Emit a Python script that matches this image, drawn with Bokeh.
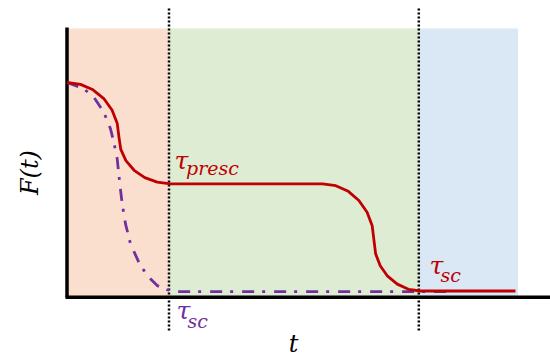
import math
from bokeh.plotting import figure
from bokeh.embed import file_html
from bokeh.resources import INLINE
from bokeh.core.properties import value

# ---- data (t in arbitrary time units, F normalised) ----
red_t = [0.0, 0.135, 0.260, 0.368, 0.450, 0.502, 0.520,
         0.538, 0.589, 0.671, 0.778, 0.902, 1.035,
         2.555, 2.688, 2.813, 2.919, 3.001, 3.052, 3.070,
         3.086, 3.132, 3.206, 3.303, 3.415, 3.535, 4.485]
red_F = [1.0, 0.991, 0.965, 0.923, 0.868, 0.805, 0.737,
         0.679, 0.625, 0.579, 0.544, 0.522, 0.514,
         0.514, 0.505, 0.478, 0.434, 0.378, 0.313, 0.242,
         0.179, 0.121, 0.071, 0.033, 0.008, 0.0, 0.0]

purple_t = [0.0, 0.168, 0.268, 0.368, 0.435, 0.468, 0.502, 0.528, 0.552, 0.585, 0.635,
            0.718, 0.802, 0.902, 1.002, 1.085, 3.815]
purple_F = [1.0, 0.970, 0.930, 0.858, 0.778, 0.714, 0.634, 0.514, 0.418, 0.322, 0.226,
            0.138, 0.074, 0.026, 0.006, -0.003, -0.003]

region_left = [0.0, 1.02, 3.518]
region_right = [1.02, 3.518, 4.51]
region_colors = ["#FADFCE", "#DEECD4", "#DAE8F5"]
region_bottom = -0.03
region_top = 1.259

tau_marks = [1.02, 3.518]

x_label = "t"
y_label = "F(t)"
tau_symbol = "τ"
sub_labels = ["presc", "sc", "sc"]
sub_colors = ["#C00000", "#C00000", "#7030A0"]
tau_x = [1.075, 3.625, 1.095]
tau_y = [0.626, 0.122, -0.0935]
sub_x = [1.190, 3.735, 1.205]
sub_y = [0.588, 0.079, -0.1415]

RED = "#C00000"
PURPLE = "#7030A0"
FONT = value("DejaVu Serif")

p = figure(width=550, height=358, x_range=(-0.665, 4.835), y_range=(-0.3237, 1.3933),
           output_backend="svg", toolbar_location=None, min_border=0,
           x_axis_type=None, y_axis_type=None)
p.outline_line_color = None
p.background_fill_color = "white"
p.border_fill_color = "white"

# shaded regions
p.quad(left=region_left, right=region_right, bottom=region_bottom, top=region_top,
       fill_color=region_colors, line_color=None)

# axis lines
p.segment(x0=[0.0, -0.015], y0=[1.264, -0.030], x1=[0.0, 4.835], y1=[-0.030, -0.030],
          line_color="black", line_width=3.5)

# dotted markers
p.segment(x0=tau_marks, x1=tau_marks, y0=-0.1894, y1=1.36,
          line_color="black", line_width=2.5, line_dash="2 2")

# curves
p.line(purple_t, purple_F, line_color=PURPLE, line_width=2.8, line_dash="12 8 3 9")
p.line(red_t, red_F, line_color=RED, line_width=2.8)

# labels
p.text(x=tau_x, y=tau_y, text=[tau_symbol] * 3, text_color=sub_colors,
       text_font=FONT, text_font_style="italic", text_font_size="25px",
       text_align="left", text_baseline="alphabetic")
p.text(x=sub_x, y=sub_y, text=sub_labels, text_color=sub_colors,
       text_font=FONT, text_font_style="italic", text_font_size="19px",
       text_align="left", text_baseline="alphabetic")

p.text(x=[2.265], y=[-0.2518], text=[x_label], text_color="black",
       text_font=FONT, text_font_style="italic", text_font_size="24px",
       text_align="center", text_baseline="alphabetic")
p.text(x=[-0.375], y=[0.568], text=[y_label], text_color="black", angle=math.pi / 2,
       text_font=FONT, text_font_style="italic", text_font_size="24px",
       text_align="center", text_baseline="middle")

open("out.html", "w").write(file_html(p, INLINE))
